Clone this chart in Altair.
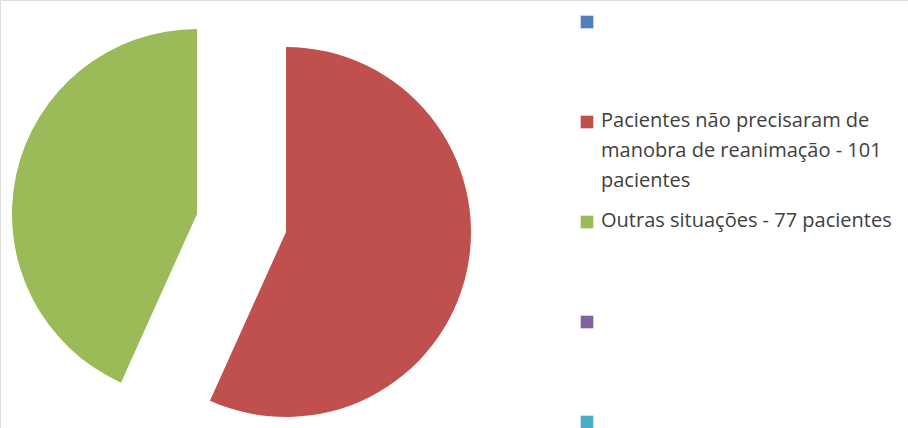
import altair as alt
import pandas as pd

# Pie data
slice_names = ["Pacientes não precisaram de manobra de reanimação", "Outras situações"]
slice_values = [101, 77]
slice_colors = ["#C0504D", "#9BBB59"]

# Legend (Excel-style, with empty series entries)
legend_lines = [
    [""],
    ["Pacientes não precisaram de", "manobra de reanimação - 101", "pacientes"],
    ["Outras situações - 77 pacientes"],
    [""],
    [""],
]
legend_colors = ["#4F81BD", "#C0504D", "#9BBB59", "#8064A2", "#4BACC6"]

total = sum(slice_values)

pie_df = pd.DataFrame({"name": slice_names, "value": slice_values,
                       "order": list(range(len(slice_names)))})

theta_scale = alt.Scale(domain=[0, total], nice=False, zero=True)


def slice_layer(i, cx, cy):
    return (
        alt.Chart(pie_df)
        .transform_window(end="sum(value)", sort=[alt.SortField("order")],
                          frame=[None, 0])
        .transform_calculate(start="datum.end - datum.value")
        .transform_filter(alt.datum.order == i)
        .mark_arc(radius=185)
        .encode(
            theta=alt.Theta("start:Q", scale=theta_scale),
            theta2="end:Q",
            x=alt.value(cx),
            y=alt.value(cy),
            color=alt.value(slice_colors[i]),
        )
    )


red = slice_layer(0, 286, 232)
green = slice_layer(1, 197, 214)

leg_df = pd.DataFrame({
    "idx": list(range(len(legend_colors))),
    "label": ["\n".join(l) for l in legend_lines],
    "color": legend_colors,
})

leg_y = alt.Y("idx:O", scale=alt.Scale(type="point", range=[22, 422], padding=0), axis=None)

squares = (
    alt.Chart(leg_df)
    .mark_square(size=160, opacity=1)
    .encode(
        x=alt.value(587),
        y=leg_y,
        color=alt.Color("color:N", scale=None),
    )
)

texts = (
    alt.Chart(leg_df)
    .mark_text(align="left", baseline="top", dy=-11, font="Open Sans", fontSize=20,
               lineHeight=30, lineBreak="\n", color="#404040")
    .encode(
        x=alt.value(601),
        y=leg_y,
        text="label:N",
    )
)

chart = (
    alt.layer(green, red, squares, texts)
    .properties(width=908, height=428, padding=0,
                autosize=alt.AutoSizeParams(type="none"))
    .configure_view(stroke=None, strokeWidth=0)
    .configure(background="white")
)

chart.save("out.html", embed_options={"renderer": "svg", "actions": False})
